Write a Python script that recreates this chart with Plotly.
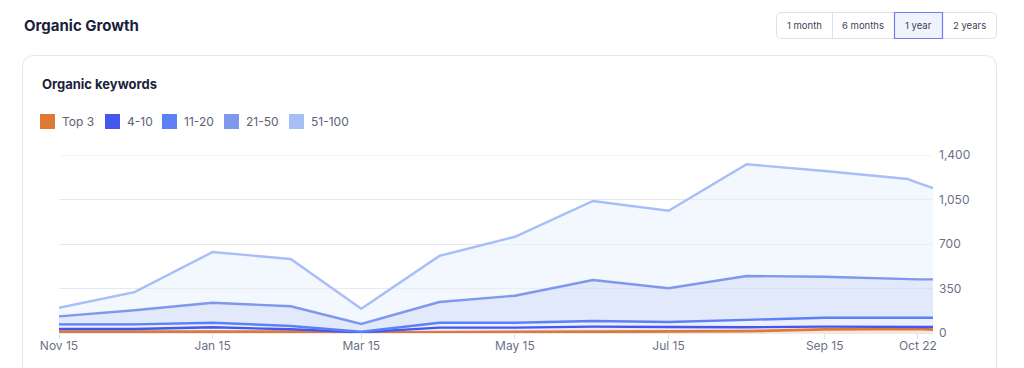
import plotly.graph_objects as go

# ---------------- data ----------------
dates = ["2021-11-15", "2021-12-15", "2022-01-15", "2022-02-15", "2022-03-15",
         "2022-04-15", "2022-05-15", "2022-06-15", "2022-07-15", "2022-08-15",
         "2022-09-15", "2022-10-18", "2022-10-22", "2022-10-28"]
top3 = [10, 10, 12, 10, 3, 8, 8, 10, 10, 14, 28, 30, 32, 26]
pos_4_10 = [21, 21, 33, 19, 3, 34, 34, 40, 37, 31, 22, 20, 20, 21]
pos_11_20 = [37, 37, 36, 26, 4, 39, 39, 44, 40, 57, 70, 70, 68, 73]
pos_21_50 = [63, 111, 157, 155, 61, 163, 212, 323, 265, 346, 323, 302, 302, 302]
pos_51_100 = [68, 143, 399, 372, 120, 362, 464, 621, 610, 879, 831, 789, 758, 718]

series_names = ["Top 3", "4-10", "11-20", "21-50", "51-100"]
x_tick_vals = ["2021-11-15", "2022-01-15", "2022-03-15", "2022-05-15",
               "2022-07-15", "2022-09-15", "2022-10-22"]
x_tick_text = ["Nov 15", "Jan 15", "Mar 15", "May 15", "Jul 15", "Sep 15", "Oct 22"]
y_tick_vals = [0, 350, 700, 1050, 1400]
range_buttons = ["1 month", "6 months", "1 year", "2 years"]

# ---------------- styles ----------------
line_colors = ["#DF7A36", "#4657F0", "#5C80F5", "#7F98EE", "#A8BEF7"]
line_widths = [2.8, 2.4, 2.4, 2.4, 2.4]
fill_colors = ["rgba(236,160,100,0.25)", "rgba(90,110,240,0.14)",
               "rgba(110,140,245,0.14)", "rgba(200,215,248,0.55)",
               "rgba(232,239,253,0.5)"]
FONT = "Inter, Lato, 'Noto Sans', sans-serif"
W, H = 1024, 368
L, R, T, B = 59, 933, 155, 333


def px(x):
    return (x - L) / (R - L)


def py(y):
    return (B - y) / (B - T)


def rounded_rect(x0, y0, x1, y1, r):
    X0, X1 = px(x0), px(x1)
    Y0, Y1 = py(y0), py(y1)
    rx = r / (R - L)
    ry = r / (B - T)
    return (f"M {X0+rx},{Y0} L {X1-rx},{Y0} Q {X1},{Y0} {X1},{Y0-ry} "
            f"L {X1},{Y1+ry} Q {X1},{Y1} {X1-rx},{Y1} L {X0+rx},{Y1} "
            f"Q {X0},{Y1} {X0},{Y1+ry} L {X0},{Y0-ry} Q {X0},{Y0} {X0+rx},{Y0} Z")


fig = go.Figure()
all_series = [top3, pos_4_10, pos_11_20, pos_21_50, pos_51_100]
for name, vals, lc, lw, fc in zip(series_names, all_series, line_colors, line_widths, fill_colors):
    fig.add_trace(go.Scatter(
        x=dates, y=vals, name=name, mode="lines", stackgroup="one",
        line=dict(color=lc, width=lw), fillcolor=fc, showlegend=False,
    ))

shapes = []
annotations = []

# top gridline (plotly skips the grid line on the range edge)
shapes.append(dict(type="line", xref="paper", yref="y", layer="below",
                   x0=0, x1=1, y0=y_tick_vals[-1], y1=y_tick_vals[-1],
                   line=dict(color="#E6E9F0", width=1)))

# card
shapes.append(dict(type="path", xref="paper", yref="paper", layer="below",
                   path=rounded_rect(22.5, 55.5, 996.5, 420, 12),
                   line=dict(color="#E2E6EE", width=1), fillcolor="rgba(0,0,0,0)"))

# title texts
annotations.append(dict(text="<b>Organic Growth</b>", x=px(22), y=py(26), xref="paper", yref="paper",
                        xanchor="left", yanchor="middle", showarrow=False,
                        font=dict(family=FONT, size=15, color="#1B1F3B")))
annotations.append(dict(text="<b>Organic keywords</b>", x=px(40), y=py(84), xref="paper", yref="paper",
                        xanchor="left", yanchor="middle", showarrow=False,
                        font=dict(family=FONT, size=13, color="#1B1F3B")))

# legend
legend_x = [40, 105, 162, 224, 289]
for name, lc, lx in zip(series_names, line_colors, legend_x):
    shapes.append(dict(type="rect", xref="paper", yref="paper",
                       x0=px(lx), x1=px(lx + 15), y0=py(114), y1=py(129),
                       line=dict(width=0), fillcolor=lc))
    annotations.append(dict(text=name, x=px(lx + 20), y=py(121.5), xref="paper", yref="paper",
                            xanchor="left", yanchor="middle", showarrow=False,
                            font=dict(family=FONT, size=12, color="#5C6275")))

# range buttons
btn_edges = [776, 832, 894, 942, 997]
shapes.append(dict(type="path", xref="paper", yref="paper",
                   path=rounded_rect(776.5, 12.5, 996.5, 38.5, 5),
                   line=dict(color="#DDE1EA", width=1), fillcolor="white"))
shapes.append(dict(type="line", xref="paper", yref="paper",
                   x0=px(832.5), x1=px(832.5), y0=py(13), y1=py(38),
                   line=dict(color="#DDE1EA", width=1)))
shapes.append(dict(type="rect", xref="paper", yref="paper",
                   x0=px(894.5), x1=px(942.5), y0=py(12.5), y1=py(38.5),
                   line=dict(color="#6F7EEF", width=1.2), fillcolor="#EEF3FD"))
for i, label in enumerate(range_buttons):
    cx = (btn_edges[i] + btn_edges[i + 1]) / 2
    annotations.append(dict(text=label, x=px(cx), y=py(25.5), xref="paper", yref="paper",
                            xanchor="center", yanchor="middle", showarrow=False,
                            font=dict(family=FONT, size=9.5, color="#3C4356")))

fig.update_layout(
    width=W, height=H,
    margin=dict(l=L, r=W - R, t=T, b=H - B, pad=0),
    paper_bgcolor="white", plot_bgcolor="white",
    showlegend=False,
    shapes=shapes, annotations=annotations,
    font=dict(family=FONT, color="#6B7185"),
    xaxis=dict(
        type="date", range=["2021-11-15", "2022-10-28"],
        tickvals=x_tick_vals, ticktext=x_tick_text,
        showgrid=False, zeroline=False, showline=False,
        ticks="outside", ticklen=5, tickcolor="#DCE0E8", tickwidth=1,
        ticklabelstandoff=-3,
        tickfont=dict(family=FONT, size=12, color="#6B7185"),
        fixedrange=True,
    ),
    yaxis=dict(
        side="right", range=[0, 1400], tickvals=y_tick_vals, tickformat=",",
        showgrid=True, gridcolor="#E6E9F0", gridwidth=1,
        zeroline=True, zerolinecolor="#E6E9F0", zerolinewidth=1,
        showline=False, ticks="", ticklabelstandoff=5,
        tickfont=dict(family=FONT, size=12, color="#6B7185"),
        fixedrange=True,
    ),
)

fig.write_html("out.html", config={"displayModeBar": False},
               post_script="document.body.style.margin='0';")
